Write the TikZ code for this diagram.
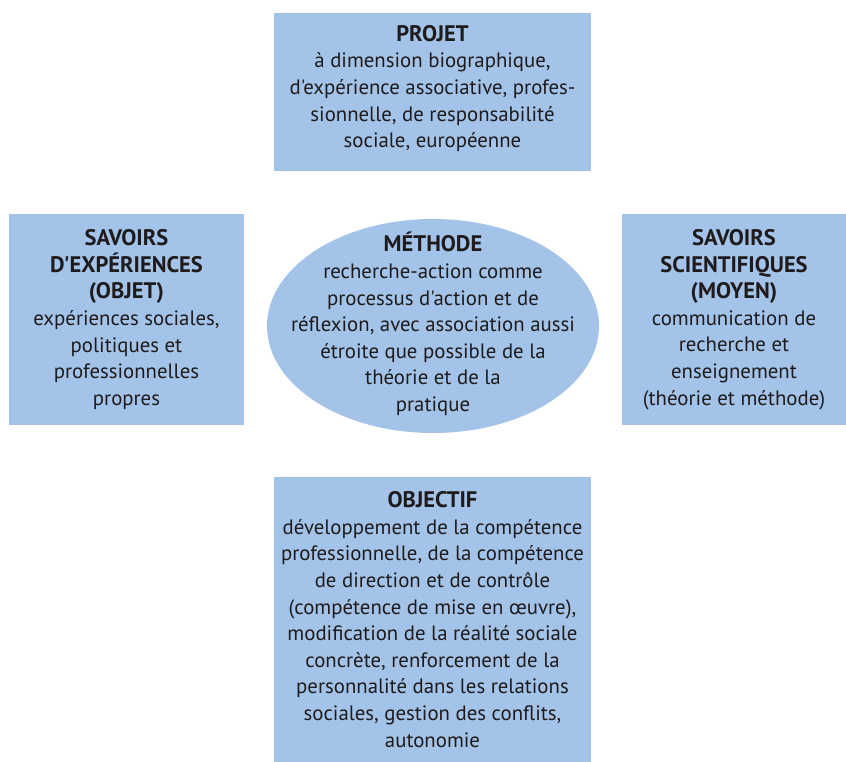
\documentclass[tikz,border=0pt]{standalone}
\usepackage{fontspec}
\setmainfont{PT Sans}[Ligatures=TeXOff]
\usetikzlibrary{shapes.geometric}
\definecolor{boxblue}{HTML}{A3C4E8}
\definecolor{txtcol}{HTML}{1F1B1C}
\newcommand\ttl[1]{{\fontsize{22.5}{26.6}\selectfont\bfseries #1}}
\begin{document}
\begin{tikzpicture}[x=1pt,y=-1pt,
  lbl/.style={align=center, text=txtcol, inner sep=0pt, font=\fontsize{20.8}{26.6}\selectfont},
  box/.style={lbl, fill=boxblue, draw=none}]
\useasboundingbox (0,0) rectangle (846,762);
\node[box, minimum width=317pt, minimum height=158pt] (projet) at (432.5,92) {};
\node[lbl] (projettxt) at (432.5,88.5)
  {\ttl{PROJET}\\à dimension biographique,\\d'expérience associative, profes-\\sionnelle, de responsabilité\\sociale, européenne};
\node[box, minimum width=235pt, minimum height=211pt] (objet) at (126.5,319.5)
  {\ttl{SAVOIRS}\\\ttl{D'EXPÉRIENCES}\\\ttl{(OBJET)}\\expériences sociales,\\politiques et\\professionnelles\\propres};
\node[box, minimum width=224pt, minimum height=211pt] (moyen) at (734,319.5)
  {\ttl{SAVOIRS}\\\ttl{SCIENTIFIQUES}\\\ttl{(MOYEN)}\\communication de\\recherche et\\enseignement\\(théorie et méthode)};
\node[ellipse, fill=boxblue, draw=none, inner sep=0pt, minimum width=332pt, minimum height=214pt] (methode) at (433,326) {};
\node[lbl] (methodetxt) at (433,324)
  {\ttl{MÉTHODE}\\recherche-action comme\\processus d'action et de\\réflexion, avec association aussi\\étroite que possible de la\\théorie et de la\\pratique};
\node[box, minimum width=317pt, minimum height=285pt] (objectif) at (432.5,619.5)
  {\ttl{OBJECTIF}\\développement de la compétence\\professionnelle, de la compétence\\de direction et de contrôle\\(compétence de mise en œuvre),\\modification de la réalité sociale\\concrète, renforcement de la\\personnalité dans les relations\\sociales, gestion des conflits,\\autonomie};
\end{tikzpicture}
\end{document}
